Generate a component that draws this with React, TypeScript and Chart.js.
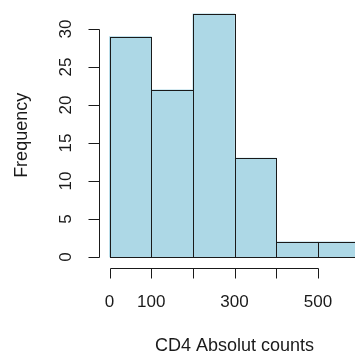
import { useEffect, useRef } from "react";
import { Chart, registerables } from "chart.js";

Chart.register(...registerables);

// Histogram bins (left edges) and their counts
const binStarts = [0, 100, 200, 300, 400, 500];
const binWidth = 100;
const counts = [29, 22, 32, 13, 2, 2];

// Axis ticks and labels (R-style: some x labels are dropped to avoid overlap)
const yTicks = [0, 5, 10, 15, 20, 25, 30];
const xTicks = [0, 100, 200, 300, 400, 500];
const xTickLabels = ["0", "100", "", "300", "", "500"];
const xTitle = "CD4 Absolut counts";
const yTitle = "Frequency";

const FONT = '"Liberation Sans", Arial, sans-serif';
const INK = "#1a1a1a";

// Outline bars as single shared edges and draw detached R-style axes
const rAxesPlugin = {
  id: "rAxes",
  afterDatasetsDraw(chart: any) {
    const ctx = chart.ctx;
    const area = chart.chartArea;
    const meta = chart.getDatasetMeta(0);
    ctx.save();
    ctx.beginPath();
    ctx.rect(area.left, area.top, area.right - area.left, area.bottom - area.top);
    ctx.clip();
    ctx.strokeStyle = INK;
    ctx.lineWidth = 1;
    meta.data.forEach((bar: any) => {
      const { x, y, base, width } = bar.getProps(["x", "y", "base", "width"], true);
      const l = Math.round(x - width / 2) + 0.5;
      const r = Math.round(x + width / 2) + 0.5;
      const t = Math.round(y) + 0.5;
      const b = Math.round(base) + 0.5;
      ctx.strokeRect(l, t, r - l, b - t);
    });
    ctx.restore();
  },
  afterDraw(chart: any) {
    const ctx = chart.ctx;
    const xs = chart.scales.x;
    const ys = chart.scales.y;
    const area = chart.chartArea;
    ctx.save();
    ctx.strokeStyle = INK;
    ctx.fillStyle = INK;
    ctx.lineWidth = 1;

    // y axis
    const ax = Math.round(area.left) - 0.5;
    const y0 = Math.round(ys.getPixelForValue(yTicks[0])) + 0.5;
    const y1 = Math.round(ys.getPixelForValue(yTicks[yTicks.length - 1])) + 0.5;
    ctx.beginPath();
    ctx.moveTo(ax, y0);
    ctx.lineTo(ax, y1);
    yTicks.forEach((v) => {
      const py = Math.round(ys.getPixelForValue(v)) + 0.5;
      ctx.moveTo(ax, py);
      ctx.lineTo(ax - 11, py);
    });
    ctx.stroke();
    ctx.font = `17px ${FONT}`;
    ctx.textAlign = "center";
    ctx.textBaseline = "middle";
    yTicks.forEach((v) => {
      const py = ys.getPixelForValue(v);
      ctx.save();
      ctx.translate(66, py);
      ctx.rotate(-Math.PI / 2);
      ctx.fillText(String(v), 0, 0);
      ctx.restore();
    });

    // x axis
    const ay = Math.round(area.bottom) + 1.5;
    const x0 = Math.round(xs.getPixelForValue(xTicks[0])) + 0.5;
    const x1 = Math.round(xs.getPixelForValue(xTicks[xTicks.length - 1])) + 0.5;
    ctx.beginPath();
    ctx.moveTo(x0, ay);
    ctx.lineTo(x1, ay);
    xTicks.forEach((v) => {
      const px = Math.round(xs.getPixelForValue(v)) + 0.5;
      ctx.moveTo(px, ay);
      ctx.lineTo(px, ay + 10);
    });
    ctx.stroke();
    xTicks.forEach((v, i) => {
      if (!xTickLabels[i]) return;
      ctx.fillText(xTickLabels[i], xs.getPixelForValue(v), 302);
    });

    // titles
    ctx.font = `18px ${FONT}`;
    ctx.fillText(xTitle, xs.getPixelForValue(300), 346);
    ctx.save();
    ctx.translate(22, (area.top + area.bottom) / 2);
    ctx.rotate(-Math.PI / 2);
    ctx.fillText(yTitle, 0, 0);
    ctx.restore();
    ctx.restore();
  },
};

export default function App() {
  const canvasRef = useRef<HTMLCanvasElement>(null);

  useEffect(() => {
    if (!canvasRef.current) return;
    const chart = new Chart(canvasRef.current, {
      type: "bar",
      data: {
        datasets: [
          {
            data: binStarts.map((s, i) => ({ x: s + binWidth / 2, y: counts[i] })),
            backgroundColor: "#add8e6",
            borderWidth: 0,
            barPercentage: 1,
            categoryPercentage: 1,
          },
        ],
      },
      options: {
        responsive: false,
        animation: false,
        layout: { padding: { left: 99.5, right: 0, top: 4, bottom: 89.3 } },
        plugins: { legend: { display: false }, tooltip: { enabled: false } },
        scales: {
          x: { type: "linear", min: -24, max: 589, offset: false, display: false },
          y: { type: "linear", min: -1.28, max: 33.28, display: false },
        },
      },
      plugins: [rAxesPlugin],
    });
    return () => chart.destroy();
  }, []);

  return (
    <div style={{ position: "fixed", left: 0, top: 0, width: 355, height: 356, background: "#fff" }}>
      <canvas ref={canvasRef} width={355} height={356} style={{ display: "block" }} />
    </div>
  );
}
